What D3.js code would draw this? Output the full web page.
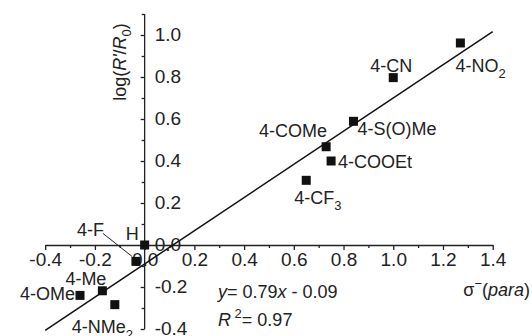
<!DOCTYPE html>
<html lang="en">
<head>
<meta charset="UTF-8">
<title>Hammett plot</title>
<style>
  body { margin: 0; background: #fff; }
  svg { font-family: "Liberation Sans", Arial, sans-serif; }
  .axis path, .axis line { stroke: #222; stroke-width: 1.3; }
  .axis text { font-size: 19px; fill: #222; }
  .lbl { font-size: 18px; fill: #222; }
</style>
</head>
<body>
<svg></svg>
<script src="https://d3js.org/d3.v7.min.js"></script>
<script>
// substituents, sigma- (para) and log(R'/R0)
var names = ["4-NO2", "4-CN", "4-S(O)Me", "4-COMe", "4-COOEt", "4-CF3", "H", "4-F", "4-Me", "4-OMe", "4-NMe2"];
var sigma = [1.27, 1.00, 0.84, 0.73, 0.75, 0.65, 0.00, -0.035, -0.17, -0.26, -0.12];
var logR  = [0.962, 0.797, 0.589, 0.468, 0.40, 0.308, 0.0, -0.078, -0.218, -0.24, -0.284];

var xMajor = [-0.4, -0.2, 0.0, 0.2, 0.4, 0.6, 0.8, 1.0, 1.2, 1.4];
var yMajor = [-0.4, -0.2, 0.0, 0.2, 0.4, 0.6, 0.8, 1.0];
var xMinor = [-0.3, -0.1, 0.1, 0.3, 0.5, 0.7, 0.9, 1.1, 1.3];
var yMinor = [-0.3, -0.1, 0.1, 0.3, 0.5, 0.7, 0.9, 1.1];

var slope = 0.79, intercept = -0.09, r2 = 0.97;

var width = 532, height = 336;
var svg = d3.select("svg").attr("width", width).attr("height", height);

var x = d3.scaleLinear().domain([-0.4, 1.4]).range([45.2, 492.7]);
var y = d3.scaleLinear().domain([-0.4, 1.1]).range([329, 14]);
var fmt = function(d) { return d3.format(".1f")(d).replace("\u2212", "-"); };

// x axis through y = 0
var gx = svg.append("g").attr("class", "axis").attr("transform", "translate(0," + y(0) + ")");
gx.call(d3.axisBottom(x).tickValues(xMajor).tickSize(5).tickSizeOuter(0).tickPadding(3).tickFormat(fmt));
gx.append("g").call(d3.axisBottom(x).tickValues(xMinor).tickSize(3).tickFormat(""))
  .select(".domain").remove();

// y axis through x = 0, labels on the right
var gy = svg.append("g").attr("class", "axis").attr("transform", "translate(" + x(0) + ",0)");
gy.call(d3.axisLeft(y).tickValues(yMajor).tickSize(4).tickSizeOuter(0).tickFormat(fmt));
gy.selectAll(".tick text").attr("x", 10).attr("text-anchor", "start").attr("dy", "0.3em");
gy.append("g").call(d3.axisLeft(y).tickValues(yMinor).tickSize(3).tickFormat(""))
  .select(".domain").remove();
gy.select(".domain").attr("d", "M0," + y(1.1) + "V" + y(-0.4));

// fit line
svg.append("line")
  .attr("x1", x(-0.4)).attr("y1", y(slope * -0.4 + intercept))
  .attr("x2", x(1.4)).attr("y2", y(slope * 1.4 + intercept))
  .attr("stroke", "#111").attr("stroke-width", 1.5);

// points
var pts = names.map(function(n, i) { return { name: n, sx: sigma[i], ly: logR[i] }; });
svg.selectAll("rect.pt").data(pts).enter().append("rect")
  .attr("class", "pt")
  .attr("x", function(d) { return x(d.sx) - 4.5; })
  .attr("y", function(d) { return y(d.ly) - 4.5; })
  .attr("width", 9).attr("height", 9)
  .attr("fill", "#111");

// label offsets from the point (px) and anchor
var offs = {
  "4-NO2": [-5, 29, "start"], "4-CN": [-23, -6, "start"], "4-S(O)Me": [4, 14, "start"],
  "4-COMe": [1, -10, "end"], "4-COOEt": [7, 7, "start"], "4-CF3": [-12, 24, "start"],
  "H": [-19, -5, "start"], "4-F": [-59, -25, "start"], "4-Me": [-37, -6, "start"],
  "4-OMe": [-5, 4.5, "end"], "4-NMe2": [-43, 28, "start"]
};

pts.forEach(function(d) {
  var o = offs[d.name];
  var t = svg.append("text").attr("class", "lbl")
    .attr("x", x(d.sx) + o[0]).attr("y", y(d.ly) + o[1])
    .attr("text-anchor", o[2]);
  var m = d.name.match(/^(.*[A-Za-z])(\d)$/);
  if (m) {
    t.append("tspan").text(m[1]);
    t.append("tspan").attr("dy", 6).attr("font-size", 13).text(m[2]);
  } else {
    t.text(d.name);
  }
});

// leader line for 4-F
var f = pts[names.indexOf("4-F")];
svg.append("line")
  .attr("x1", x(f.sx) - 33).attr("y1", y(f.ly) - 28)
  .attr("x2", x(f.sx) - 4).attr("y2", y(f.ly) - 5)
  .attr("stroke", "#222").attr("stroke-width", 1);

// axis titles
var yt = svg.append("text").attr("class", "lbl")
  .attr("transform", "translate(126,62) rotate(-90)")
  .attr("text-anchor", "middle").attr("font-size", 19);
yt.append("tspan").text("log(");
yt.append("tspan").attr("font-style", "italic").text("R'");
yt.append("tspan").text("/");
yt.append("tspan").attr("font-style", "italic").text("R");
yt.append("tspan").attr("dy", 5).attr("font-size", 13).text("0");
yt.append("tspan").attr("dy", -5).text(")");

var xt = svg.append("text").attr("class", "lbl")
  .attr("x", 530).attr("y", 296).attr("text-anchor", "end").attr("font-size", 18);
xt.append("tspan").text("\u03c3");
xt.append("tspan").attr("dy", -8).attr("font-size", 13).text("\u2212");
xt.append("tspan").attr("dy", 8).text("(");
xt.append("tspan").attr("font-style", "italic").text("para");
xt.append("tspan").text(")");

// equation
var eq = svg.append("text").attr("class", "lbl").attr("x", 218).attr("y", 298);
eq.append("tspan").attr("font-style", "italic").text("y");
eq.append("tspan").text("= " + slope.toFixed(2));
eq.append("tspan").attr("font-style", "italic").text("x");
eq.append("tspan").text(" - " + Math.abs(intercept).toFixed(2));

var rq = svg.append("text").attr("class", "lbl").attr("x", 218).attr("y", 326);
rq.append("tspan").attr("font-style", "italic").text("R");
rq.append("tspan").attr("dy", -8).attr("font-size", 13).text(" 2");
rq.append("tspan").attr("dy", 8).text("= " + r2.toFixed(2));
</script>
</body>
</html>
